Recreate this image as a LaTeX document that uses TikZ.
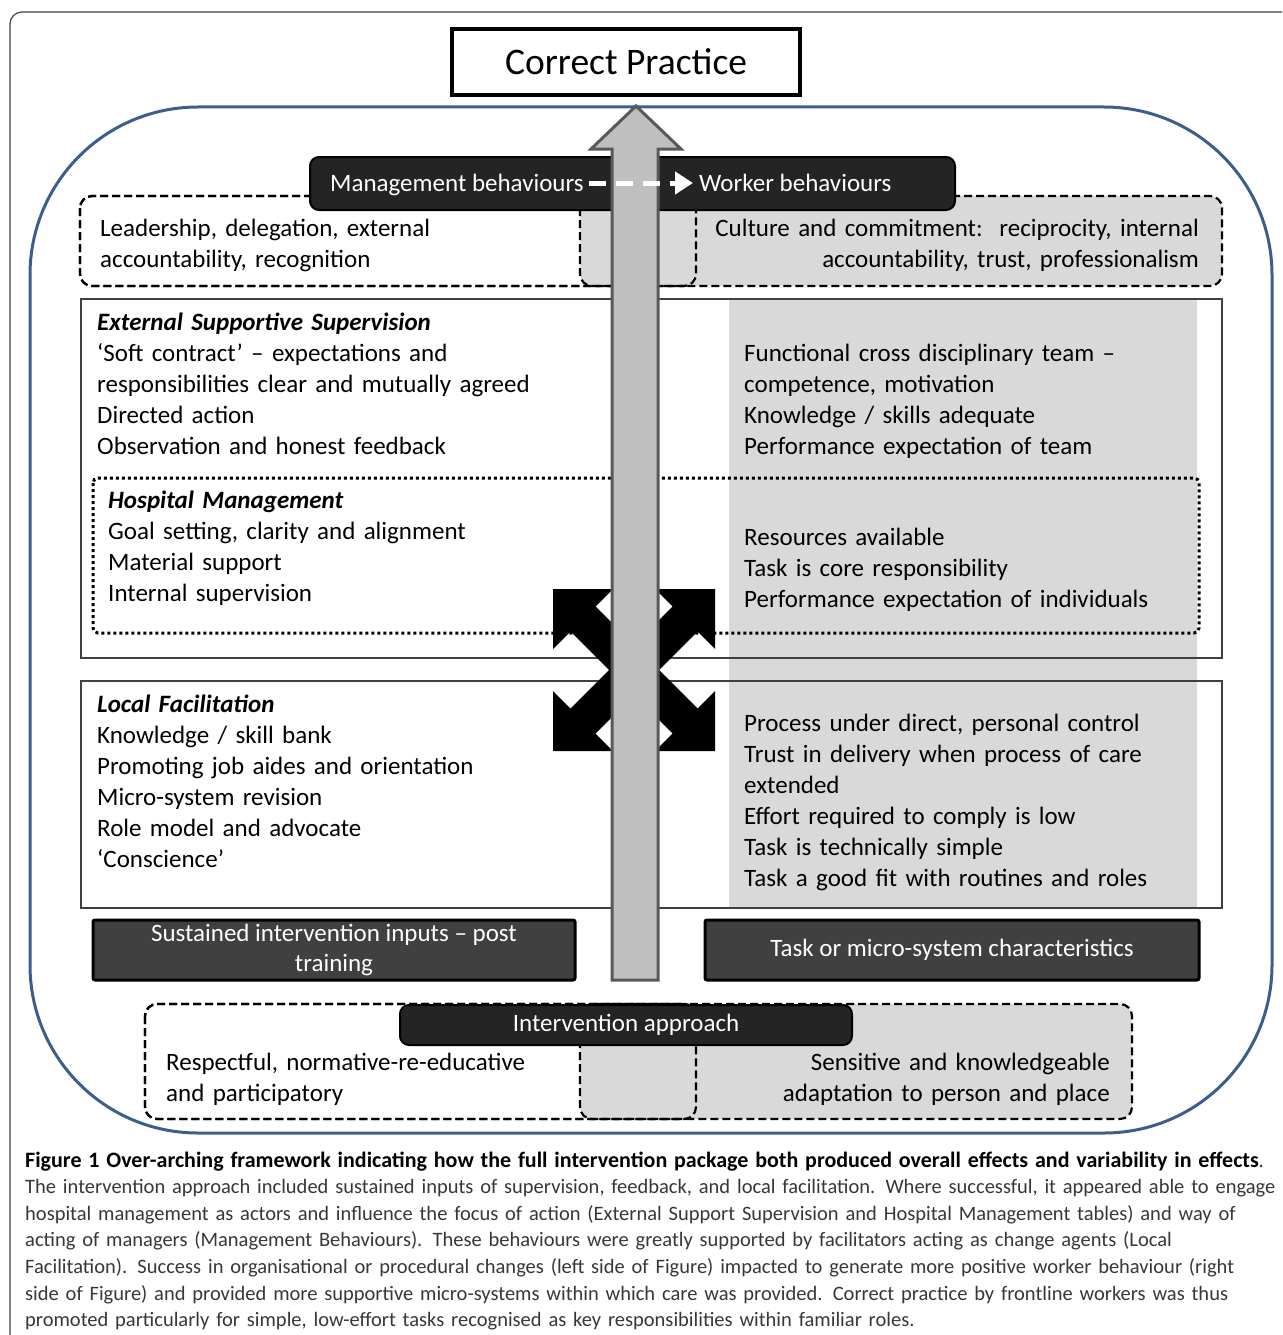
\documentclass[tikz,border=0pt]{standalone}
\usepackage{fontspec}
\setmainfont{Carlito}
\usetikzlibrary{arrows.meta}

\definecolor{framegray}{RGB}{64,64,64}
\definecolor{ovalblue}{RGB}{59,94,140}
\definecolor{panelgray}{RGB}{217,217,217}
\definecolor{shaftgray}{RGB}{191,191,191}
\definecolor{shaftedge}{RGB}{89,89,89}
\definecolor{barblack}{RGB}{36,36,36}
\definecolor{boxdark}{RGB}{64,64,64}
\definecolor{captext}{RGB}{55,55,55}

\begin{document}
\begin{tikzpicture}[x=1pt, y=-1pt,
  txt/.style={font=\fontsize{25}{31}\selectfont, inner sep=0pt, align=left, text width=520pt, anchor=base west},
  rtxt/.style={txt, align=right, anchor=base east},
  ttl/.style={txt, font=\fontsize{25}{31}\selectfont\bfseries\itshape},
  bartxt/.style={text=white, font=\fontsize{25}{30}\selectfont, inner sep=0pt},
  dashbox/.style={draw=black, dash pattern=on 8pt off 4pt, line width=2.2pt, rounded corners=12pt},
  dotbox/.style={draw=black, dash pattern=on 3pt off 3pt, line width=3pt, rounded corners=5pt},
  panel/.style={draw=framegray, line width=1.5pt},
  darkbar/.style={fill=barblack, draw=black, line width=2pt, rounded corners=9pt},
  darkbox/.style={fill=boxdark, draw=black, line width=3pt, rounded corners=2pt}]

\clip (0,0) rectangle (1282,1335);

% frames
\draw[framegray, line width=1.2pt, rounded corners=12pt] (10,12) rectangle (1300,1350);
\draw[ovalblue, line width=3pt, rounded corners=168pt] (30,107) rectangle (1272,1133);

% goal
\node[draw=black, line width=3.5pt, minimum width=348pt, minimum height=66pt, inner sep=0pt,
  font=\fontsize{37.5}{40}\selectfont] (correct) at (626,62) {Correct Practice};

% behaviours: left white, right grey, overlap in the middle
\draw[dashbox, fill=white] (80,196) rectangle (696,286);
\draw[dashbox, fill=panelgray] (580,196) rectangle (1222,286);
\draw[dashbox] (80,196) rectangle (696,286);
\node[txt] (lead) at (100,236) {Leadership, delegation, external\\accountability, recognition};
\node[rtxt] (culture) at (1199,236) {Culture and commitment:\ \ reciprocity, internal\\accountability, trust, professionalism};

% supervision / management panel and facilitation panel
\fill[panelgray] (729,300) rectangle (1197,908);
\draw[panel] (81,299) rectangle (1222,658);
\draw[panel] (81,681) rectangle (1222,908);
\draw[dotbox] (93,478) rectangle (1199,633);

\node[ttl] (ess) at (97,330) {External Supportive Supervision};
\node[txt] (esslist) at (97,361) {‘Soft contract’ – expectations and\\responsibilities clear and mutually agreed\\Directed action\\Observation and honest feedback};
\node[ttl] (hosp) at (108,508) {Hospital Management};
\node[txt] (hosplist) at (108,539) {Goal setting, clarity and alignment\\Material support\\Internal supervision};
\node[txt] (team) at (744,361) {Functional cross disciplinary team –\\competence, motivation\\Knowledge / skills adequate\\Performance expectation of team};
\node[txt] (resources) at (744,545) {Resources available\\Task is core responsibility\\Performance expectation of individuals};

\node[ttl] (local) at (97,712) {Local Facilitation};
\node[txt] (locallist) at (97,743) {Knowledge / skill bank\\Promoting job aides and orientation\\Micro-system revision\\Role model and advocate\\‘Conscience’};
\node[txt] (process) at (744,731) {Process under direct, personal control\\Trust in delivery when process of care\\extended\\Effort required to comply is low\\Task is technically simple\\Task a good fit with routines and roles};

% four-way black arrow between the panels
\fill[black, shift={(634,670)}] (-25,0) -- (-63.5,-38.5) -- (-81,-21) -- (-81,-81) -- (-21,-81) -- (-38.5,-63.5)
  -- (0,-25) -- (38.5,-63.5) -- (21,-81) -- (81,-81) -- (81,-21) -- (63.5,-38.5)
  -- (25,0) -- (63.5,38.5) -- (81,21) -- (81,81) -- (21,81) -- (38.5,63.5)
  -- (0,25) -- (-38.5,63.5) -- (-21,81) -- (-81,81) -- (-81,21) -- (-63.5,38.5) -- cycle;

% inputs and characteristics
\node[darkbox, bartxt, minimum width=482pt, minimum height=60pt, align=center] (inputs) at (334,950) {Sustained intervention inputs – post\\training};
\node[darkbox, bartxt, minimum width=494pt, minimum height=60pt] (tasks) at (952,950) {Task or micro-system characteristics};

% intervention approach
\draw[dashbox, fill=white] (145,1004) rectangle (696,1119);
\draw[dashbox, fill=panelgray] (580,1004) rectangle (1132,1119);
\draw[dashbox] (145,1004) rectangle (696,1119);
\node[darkbar, bartxt, minimum width=452pt, minimum height=40pt] (approach) at (626,1025) {Intervention approach};
\node[txt] (respect) at (166,1070) {Respectful, normative-re-educative\\and participatory};
\node[rtxt] (sensitive) at (1110,1070) {Sensitive and knowledgeable\\adaptation to person and place};

% behaviours bar
\node[darkbar, minimum width=645pt, minimum height=53pt] (behav) at (632.5,183.5) {};
\node[bartxt, anchor=base west] (mgmt) at (330,191) {Management behaviours};
\node[bartxt, anchor=base west] (worker) at (699,191) {Worker behaviours};

% big upward arrow to correct practice
\draw[shaftedge, fill=shaftgray, line width=3pt] (612,980) -- (612,149) -- (591,149) -- (636,106)
  -- (681,149) -- (658,149) -- (658,980) -- cycle;

\draw[white, line width=5pt, dash pattern=on 17pt off 10pt, -{Triangle[length=18pt,width=22pt]},
  shorten <=5pt, shorten >=6pt] ([yshift=8pt]mgmt.base east) -- ([yshift=8pt]worker.base west);

% caption
\node[font=\fontsize{20.5}{26.6}\selectfont, text=captext, inner sep=0pt, align=left, text width=1300pt,
  anchor=base west] (caption) at (25,1167) {\textcolor{black}{\fontsize{22}{26.6}\selectfont\bfseries Figure 1 Over-arching framework indicating how the full intervention package both produced overall effects and variability in effects}.\\
The intervention approach included sustained inputs of supervision, feedback, and local facilitation. Where successful, it appeared able to engage\\
hospital management as actors and influence the focus of action (External Support Supervision and Hospital Management tables) and way of\\
acting of managers (Management Behaviours). These behaviours were greatly supported by facilitators acting as change agents (Local\\
Facilitation). Success in organisational or procedural changes (left side of Figure) impacted to generate more positive worker behaviour (right\\
side of Figure) and provided more supportive micro-systems within which care was provided. Correct practice by frontline workers was thus\\
promoted particularly for simple, low-effort tasks recognised as key responsibilities within familiar roles.};

\end{tikzpicture}
\end{document}
